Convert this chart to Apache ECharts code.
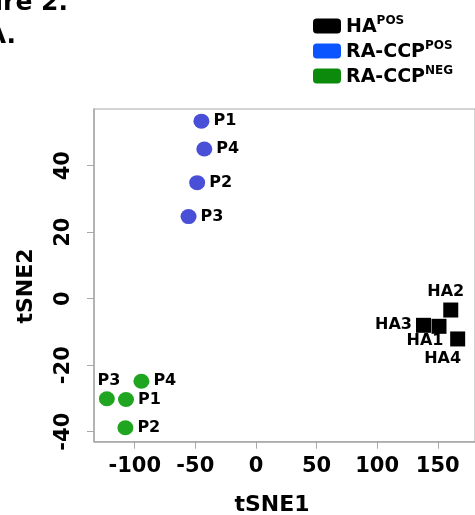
<!DOCTYPE html>
<html>
<head>
<meta charset="utf-8">
<script src="https://cdn.jsdelivr.net/npm/echarts@6/dist/echarts.min.js"></script>
<style>
  html, body { margin: 0; padding: 0; background: #fff; }
  #chart { width: 475px; height: 515px; }
</style>
</head>
<body>
<div id="chart"></div>
<script>
// tSNE coordinates
const haNames = ['HA2', 'HA3', 'HA1', 'HA4']
const haX = [160.7, 138.2, 151.0, 166.4]
const haY = [-3.4, -8.0, -8.3, -12.1]

const posNames = ['P1', 'P4', 'P2', 'P3']
const posX = [-45.0, -42.6, -48.5, -55.6]
const posY = [53.4, 45.0, 34.9, 24.7]

const negNames = ['P4', 'P3', 'P1', 'P2']
const negX = [-94.5, -123.0, -107.2, -107.7]
const negY = [-24.8, -30.1, -30.3, -38.8]

const xTicks = [-100, -50, 0, 50, 100, 150]
const yTicks = [-40, -20, 0, 20, 40]

const FONT = 'DejaVu Sans'

// label placement per point (HA labels sit around the cluster)
const haLabels = [
  { position: 'top', distance: 3, offset: [-5, 0] },
  { position: 'left', distance: 4 },
  { position: 'bottom', distance: 0, offset: [-14, -1] },
  { position: 'bottom', distance: 2, offset: [-15, 2] }
]
const negLabels = [
  { position: 'right', distance: 4 },
  { position: 'top', distance: 2, offset: [2, 0] },
  { position: 'right', distance: 4 },
  { position: 'right', distance: 4 }
]

function pts (names, xs, ys, labels) {
  return names.map((n, i) => {
    const item = { name: n, value: [xs[i], ys[i]] }
    if (labels) item.label = labels[i]
    return item
  })
}

const labelStyle = {
  show: true,
  formatter: '{b}',
  color: '#000',
  fontFamily: FONT,
  fontWeight: 'bold',
  fontSize: 16
}

const legendRich = {
  b: { fontFamily: FONT, fontWeight: 'bold', fontSize: 19, color: '#000', lineHeight: 22, verticalAlign: 'bottom' },
  s: { fontFamily: FONT, fontWeight: 'bold', fontSize: 12, color: '#000', verticalAlign: 'top' }
}

const chart = echarts.init(document.getElementById('chart'))
chart.setOption({
  animation: false,
  graphic: [
    {
      type: 'text', right: 407, top: -9,
      style: { text: 'Figure 2.', fontFamily: FONT, fontWeight: 'bold', fontSize: 25, fill: '#000' }
    },
    {
      type: 'text', x: 16, y: 24,
      style: { text: 'A.', align: 'right', fontFamily: FONT, fontWeight: 'bold', fontSize: 25, fill: '#000' }
    },
    {
      type: 'text', x: 272, y: 505,
      style: { text: 'tSNE1', align: 'center', verticalAlign: 'middle', fontFamily: FONT, fontWeight: 'bold', fontSize: 22, fill: '#000' }
    },
    {
      type: 'text', x: 26, y: 286, rotation: Math.PI / 2,
      style: { text: 'tSNE2', align: 'center', verticalAlign: 'middle', fontFamily: FONT, fontWeight: 'bold', fontSize: 22, fill: '#000' }
    }
  ],
  legend: {
    left: 308,
    top: 10,
    orient: 'vertical',
    itemWidth: 28,
    itemHeight: 15,
    itemGap: 3,
    icon: 'roundRect',
    data: [
      { name: 'HA', itemStyle: { color: '#000000', opacity: 1 } },
      { name: 'RA-CCP+', itemStyle: { color: '#0a55ff', opacity: 1 } },
      { name: 'RA-CCP-', itemStyle: { color: '#0b8a0b', opacity: 1 } }
    ],
    formatter: function (name) {
      if (name === 'HA') return '{b|HA}{s|POS}'
      if (name === 'RA-CCP+') return '{b|RA-CCP}{s|POS}'
      return '{b|RA-CCP}{s|NEG}'
    },
    textStyle: { rich: legendRich }
  },
  grid: { left: 94, top: 109, width: 386, height: 332.7, show: true, borderColor: '#a8a8a8', borderWidth: 1 },
  xAxis: {
    type: 'value',
    min: -133.6,
    max: 180.7,
    axisLine: { show: true, onZero: false, lineStyle: { color: '#a8a8a8', width: 1.5 } },
    axisTick: { show: true, length: 7, lineStyle: { color: '#a8a8a8' }, customValues: xTicks },
    axisLabel: { customValues: xTicks, margin: 14, color: '#000', fontFamily: FONT, fontWeight: 'bold', fontSize: 21 },
    splitLine: { show: false }
  },
  yAxis: {
    type: 'value',
    min: -43.0,
    max: 57.05,
    axisLine: { show: true, onZero: false, lineStyle: { color: '#a8a8a8', width: 1.5 } },
    axisTick: { show: true, length: 7, lineStyle: { color: '#a8a8a8' }, customValues: yTicks },
    axisLabel: { customValues: yTicks, rotate: 90, margin: 20, color: '#000', fontFamily: FONT, fontWeight: 'bold', fontSize: 21 },
    splitLine: { show: false }
  },
  series: [
    {
      name: 'HA',
      type: 'scatter',
      symbol: 'rect',
      symbolSize: [15, 15],
      itemStyle: { color: '#000', opacity: 1 },
      label: labelStyle,
      data: pts(haNames, haX, haY, haLabels)
    },
    {
      name: 'RA-CCP+',
      type: 'scatter',
      symbol: 'circle',
      symbolSize: [16, 15],
      itemStyle: { color: '#4a4fd8', opacity: 1 },
      label: Object.assign({}, labelStyle, { position: 'right', distance: 4 }),
      data: pts(posNames, posX, posY)
    },
    {
      name: 'RA-CCP-',
      type: 'scatter',
      symbol: 'circle',
      symbolSize: [16, 15],
      itemStyle: { color: '#1fa51f', opacity: 1 },
      label: labelStyle,
      data: pts(negNames, negX, negY, negLabels)
    }
  ]
})
</script>
</body>
</html>
